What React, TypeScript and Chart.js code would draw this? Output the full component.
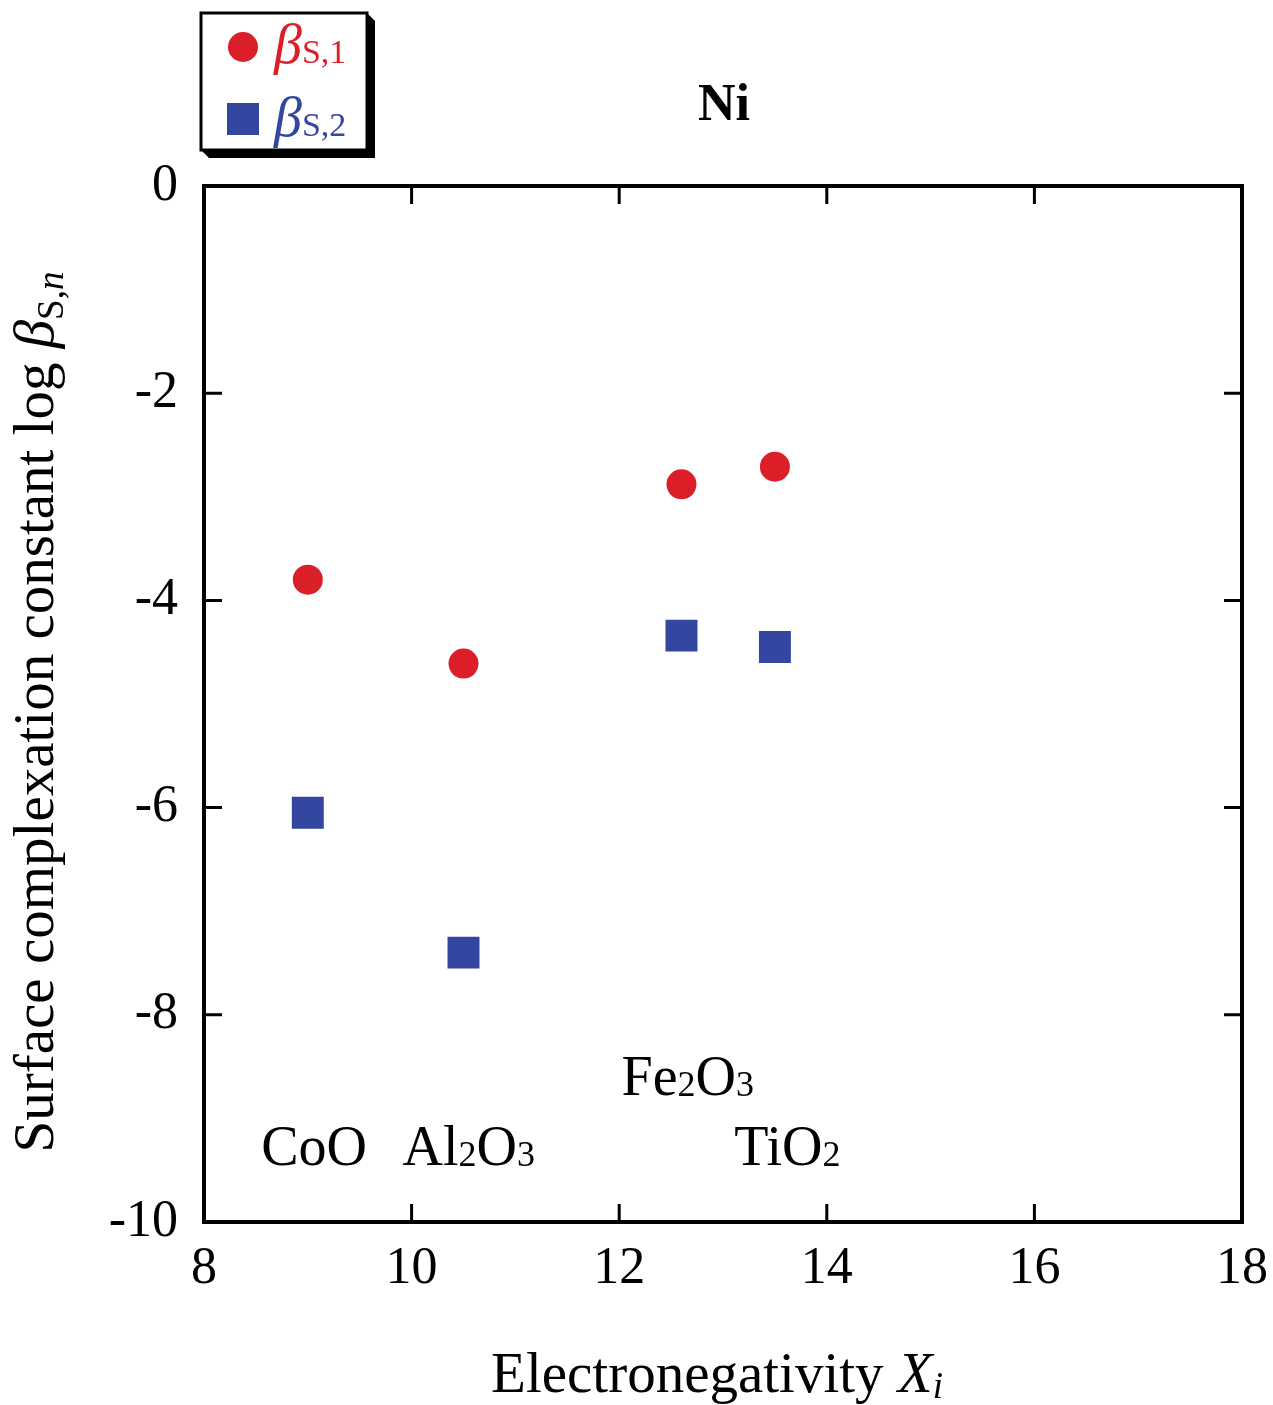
import { useEffect, useRef } from "react";
import { Chart, registerables } from "chart.js";
Chart.register(...registerables);

const FONT = '"Liberation Serif", "Times New Roman", Times, serif';

const oxides = ["CoO", "Al2O3", "Fe2O3", "TiO2"];
const electronegativity = [9.0, 10.5, 12.6, 13.5];
const logBetaS1 = [-3.8, -4.61, -2.88, -2.71];
const logBetaS2 = [-6.05, -7.4, -4.34, -4.45];
const xTicks = [8, 10, 12, 14, 16, 18];
const yTicks = [0, -2, -4, -6, -8, -10];
const labelX = [9.06, 10.55, 12.66, 13.62];
const labelY = [-9.45, -9.45, -8.77, -9.45];

const RED = "#da1f28";
const BLUE = "#3447a0";

type Run = { t: string; font: string; dy?: number; color?: string };

function splitFormula(s: string): Run[] {
  const runs: Run[] = [];
  const re = /([A-Za-z]+)|(\d+)/g;
  let m: RegExpExecArray | null;
  while ((m = re.exec(s))) {
    if (m[1]) runs.push({ t: m[1], font: `56px ${FONT}` });
    else runs.push({ t: m[2], font: `36px ${FONT}`, dy: 1 });
  }
  return runs;
}

function drawRuns(ctx: CanvasRenderingContext2D, x: number, y: number, runs: Run[], align: "left" | "center", color = "#000") {
  ctx.save();
  ctx.textBaseline = "alphabetic";
  ctx.textAlign = "left";
  let total = 0;
  for (const r of runs) {
    ctx.font = r.font;
    total += ctx.measureText(r.t).width;
  }
  let cx = align === "center" ? x - total / 2 : x;
  for (const r of runs) {
    ctx.font = r.font;
    ctx.fillStyle = r.color || color;
    ctx.fillText(r.t, cx, y + (r.dy || 0));
    cx += ctx.measureText(r.t).width;
  }
  ctx.restore();
}

const decor = {
  id: "decor",
  afterDraw(chart: any) {
    const ctx: CanvasRenderingContext2D = chart.ctx;
    const { left, right, top, bottom } = chart.chartArea;
    const xs = chart.scales.x;
    const ys = chart.scales.y;
    ctx.save();
    // frame
    ctx.strokeStyle = "#000";
    ctx.lineWidth = 4;
    ctx.strokeRect(left, top, right - left, bottom - top);
    // inner ticks
    ctx.lineWidth = 3;
    const tl = 18;
    ctx.beginPath();
    for (const v of xTicks) {
      const px = xs.getPixelForValue(v);
      ctx.moveTo(px, bottom);
      ctx.lineTo(px, bottom - tl);
      ctx.moveTo(px, top);
      ctx.lineTo(px, top + tl);
    }
    for (const v of yTicks) {
      const py = ys.getPixelForValue(v);
      ctx.moveTo(left, py);
      ctx.lineTo(left + tl, py);
      ctx.moveTo(right, py);
      ctx.lineTo(right - tl, py);
    }
    ctx.stroke();

    // annotations
    oxides.forEach((name, i) => {
      drawRuns(ctx, xs.getPixelForValue(labelX[i]), ys.getPixelForValue(labelY[i]), splitFormula(name), "center");
    });

    // title
    ctx.font = `bold 52px ${FONT}`;
    ctx.fillStyle = "#000";
    ctx.textAlign = "center";
    ctx.textBaseline = "alphabetic";
    ctx.fillText("Ni", 724, 120);

    // x title
    drawRuns(
      ctx,
      717,
      1392,
      [
        { t: "Electronegativity ", font: `57px ${FONT}` },
        { t: "X", font: `italic 57px ${FONT}` },
        { t: "i", font: `italic 37px ${FONT}`, dy: 6 },
      ],
      "center"
    );

    // y title
    ctx.save();
    ctx.translate(53, 712);
    ctx.rotate(-Math.PI / 2);
    drawRuns(
      ctx,
      0,
      0,
      [
        { t: "Surface complexation constant log ", font: `57px ${FONT}` },
        { t: "\u03B2", font: `italic 57px ${FONT}` },
        { t: "S,", font: `37px ${FONT}`, dy: 10 },
        { t: "n", font: `italic 37px ${FONT}`, dy: 10 },
      ],
      "center"
    );
    ctx.restore();

    // legend
    const bx = 201, by = 13, bw = 166, bh = 137, sh = 8;
    ctx.fillStyle = "#000";
    ctx.beginPath();
    ctx.moveTo(bx + bw, by);
    ctx.lineTo(bx + bw + sh, by + sh);
    ctx.lineTo(bx + bw + sh, by + bh + sh);
    ctx.lineTo(bx + sh, by + bh + sh);
    ctx.lineTo(bx, by + bh);
    ctx.closePath();
    ctx.fill();
    ctx.fillStyle = "#fff";
    ctx.fillRect(bx, by, bw, bh);
    ctx.lineWidth = 3;
    ctx.strokeStyle = "#000";
    ctx.strokeRect(bx, by, bw, bh);

    ctx.fillStyle = RED;
    ctx.beginPath();
    ctx.arc(243, 47, 15, 0, Math.PI * 2);
    ctx.fill();
    ctx.fillStyle = BLUE;
    ctx.fillRect(227, 103, 32, 32);

    drawRuns(ctx, 274, 63, [
      { t: "\u03B2", font: `italic 56px ${FONT}` },
      { t: "S,1", font: `34px ${FONT}` },
    ], "left", RED);
    drawRuns(ctx, 274, 136, [
      { t: "\u03B2", font: `italic 56px ${FONT}` },
      { t: "S,2", font: `34px ${FONT}` },
    ], "left", BLUE);

    ctx.restore();
  },
};

export default function App() {
  const ref = useRef<HTMLCanvasElement>(null);
  useEffect(() => {
    document.body.style.margin = "0";
    const chart = new Chart(ref.current!, {
      type: "scatter",
      data: {
        datasets: [
          {
            label: "βS,1",
            data: electronegativity.map((x, i) => ({ x, y: logBetaS1[i] })),
            pointStyle: "circle",
            pointRadius: 15,
            pointHoverRadius: 15,
            backgroundColor: RED,
            borderWidth: 0,
          },
          {
            label: "βS,2",
            data: electronegativity.map((x, i) => ({ x, y: logBetaS2[i] })),
            pointStyle: "rect",
            pointRadius: 22.6,
            pointHoverRadius: 22.6,
            backgroundColor: BLUE,
            borderWidth: 0,
          },
        ],
      },
      options: {
        animation: false,
        responsive: false,
        devicePixelRatio: 1,
        layout: { padding: { top: 186, right: 31, left: 0, bottom: 0 } },
        plugins: { legend: { display: false }, tooltip: { enabled: false } },
        scales: {
          x: {
            type: "linear",
            min: 8,
            max: 18,
            afterFit: (s: any) => {
              s.height = 183;
              s.paddingLeft = 0;
              s.paddingRight = 0;
            },
            afterBuildTicks: (s: any) => {
              s.ticks = xTicks.map((v) => ({ value: v }));
            },
            grid: { display: false, drawTicks: false },
            border: { display: false },
            ticks: { font: { family: FONT, size: 52 }, color: "#000", padding: 16, maxRotation: 0 },
          },
          y: {
            type: "linear",
            min: -10,
            max: 0,
            afterFit: (s: any) => {
              s.width = 204;
              s.paddingTop = 0;
              s.paddingBottom = 0;
            },
            afterBuildTicks: (s: any) => {
              s.ticks = yTicks.map((v) => ({ value: v }));
            },
            grid: { display: false, drawTicks: false },
            border: { display: false },
            ticks: { font: { family: FONT, size: 52 }, color: "#000", padding: 26 },
          },
        },
      },
      plugins: [decor],
    });
    return () => chart.destroy();
  }, []);
  return <canvas ref={ref} width={1273} height={1405} style={{ display: "block" }} />;
}
